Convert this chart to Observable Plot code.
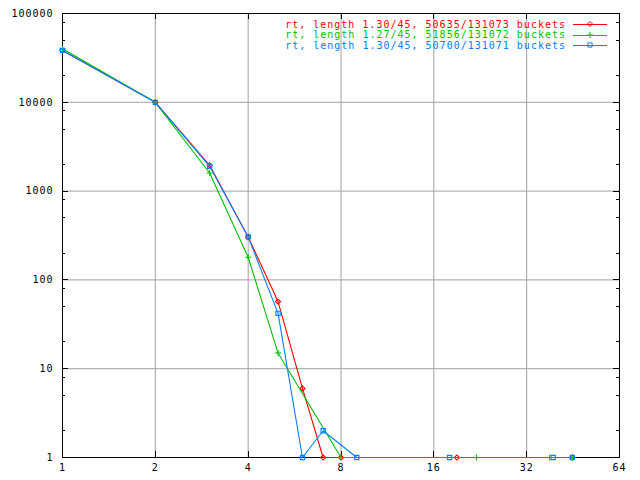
<!DOCTYPE html>
<html><head><meta charset="utf-8">
<script src="https://cdn.jsdelivr.net/npm/d3@7"></script>
<script src="https://cdn.jsdelivr.net/npm/@observablehq/plot@0.6"></script>
<style>
body{margin:0;background:#fff}
#chart svg{display:block}
</style>
</head><body><div id="chart"></div>
<script>
// ---- data ----
const seriesNames = [
  "rt, length 1.30/45, 50635/131073 buckets",
  "rt, length 1.27/45, 51856/131072 buckets",
  "rt, length 1.30/45, 50700/131071 buckets"
];
const seriesColors = ["#ff0000", "#00c000", "#0080ff"];
const seriesSymbols = ["diamond2", "plus", "square2"];
const seriesSizes = [2.3, 2.1, 2.7];

const redLengths   = [1, 2, 3, 4, 5, 6, 7, 8, 19, 45];
const redCounts    = [38300, 10000, 1950, 305, 57, 6, 1, 1, 1, 1];
const greenLengths = [1, 2, 3, 4, 5, 8, 22, 38, 45];
const greenCounts  = [40000, 10000, 1600, 180, 15, 1, 1, 1, 1];
const blueLengths  = [1, 2, 3, 4, 5, 6, 7, 9, 18, 39, 45];
const blueCounts   = [38400, 10000, 1900, 305, 42, 1, 2, 1, 1, 1, 1];

const xTicks = [1, 2, 4, 8, 16, 32, 64];
const yTicks = [1, 10, 100, 1000, 10000, 100000];
const yMinorFactors = [2, 5, 8];

// ---- build table ----
const allLengths = [redLengths, greenLengths, blueLengths];
const allCounts = [redCounts, greenCounts, blueCounts];
const rows = [];
allLengths.forEach((ls, s) => ls.forEach((len, i) => rows.push({series: seriesNames[s], s, len, count: allCounts[s][i]})));

const FONT = "'DejaVu Sans Mono', 'Liberation Mono', monospace";

function borderTicks(index, scales, values, dims) {
  const {x, y} = scales;
  const L = dims.marginLeft, R = dims.width - dims.marginRight;
  const T = dims.marginTop, B = dims.height - dims.marginBottom;
  const p = d3.path();
  for (const v of xTicks) {
    const px = Math.round(x(v));
    p.moveTo(px, B); p.lineTo(px, B - 6);
    p.moveTo(px, T); p.lineTo(px, T + 6);
  }
  for (const v of yTicks) {
    const py = Math.round(y(v));
    p.moveTo(L, py); p.lineTo(L + 6, py);
    p.moveTo(R, py); p.lineTo(R - 6, py);
  }
  for (const d of yTicks.slice(0, -1)) {
    for (const f of yMinorFactors) {
      const py = Math.round(y(d * f));
      p.moveTo(L, py); p.lineTo(L + 3, py);
      p.moveTo(R, py); p.lineTo(R - 3, py);
    }
  }
  return d3.create("svg:path").attr("d", p.toString()).attr("fill", "none")
    .attr("stroke", "black").attr("shape-rendering", "crispEdges").node();
}

function legend(index, scales, values, dims) {
  const R = dims.width - dims.marginRight;
  const T = dims.marginTop;
  const g = d3.create("svg:g");
  seriesNames.forEach((name, s) => {
    const yy = T + 11 + s * 10.7;
    g.append("text").attr("x", R - 53).attr("y", yy).attr("dy", "0.35em")
      .attr("text-anchor", "end").attr("fill", seriesColors[s]).text(name);
    g.append("line").attr("x1", R - 46).attr("x2", R - 12).attr("y1", Math.round(yy)).attr("y2", Math.round(yy))
      .attr("stroke", seriesColors[s]).attr("shape-rendering", "crispEdges");
    const sym = d3.symbol(
      {diamond2: d3.symbolDiamond2, plus: d3.symbolPlus, square2: d3.symbolSquare2}[seriesSymbols[s]],
      Math.PI * seriesSizes[s] ** 2)();
    g.append("path").attr("d", sym).attr("transform", `translate(${R - 29},${Math.round(yy)})`)
      .attr("fill", "none").attr("stroke", seriesColors[s]);
  });
  return g.node();
}

const seriesMarks = [];
seriesNames.forEach((name, s) => {
  const d = rows.filter(r => r.s === s);
  seriesMarks.push(Plot.line(d, {x: "len", y: "count", stroke: seriesColors[s], strokeWidth: 1.1}));
  seriesMarks.push(Plot.dot(d, {x: "len", y: "count", stroke: seriesColors[s], symbol: seriesSymbols[s], r: seriesSizes[s], strokeWidth: 1.1}));
});

const chart = Plot.plot({
  width: 640,
  height: 480,
  marginLeft: 62,
  marginRight: 21,
  marginTop: 13,
  marginBottom: 23,
  style: {fontFamily: FONT, fontSize: "10px", letterSpacing: "1px", background: "#fff", color: "black"},
  x: {type: "log", base: 2, domain: [1, 64]},
  y: {type: "log", domain: [1, 100000]},
  marks: [
    Plot.gridX(xTicks, {stroke: "#a0a0a0", strokeOpacity: 1}),
    Plot.gridY(yTicks, {stroke: "#a0a0a0", strokeOpacity: 1}),
    Plot.frame({stroke: "black"}),
    borderTicks,
    Plot.axisX(xTicks, {tickSize: 0, tickPadding: 6, tickFormat: d => String(d), label: null, fill: "black"}),
    Plot.axisY(yTicks, {tickSize: 0, tickPadding: 9, tickFormat: d => String(d), label: null, fill: "black"}),
    ...seriesMarks,
    legend
  ]
});
document.getElementById("chart").appendChild(chart);
</script>
</body></html>
